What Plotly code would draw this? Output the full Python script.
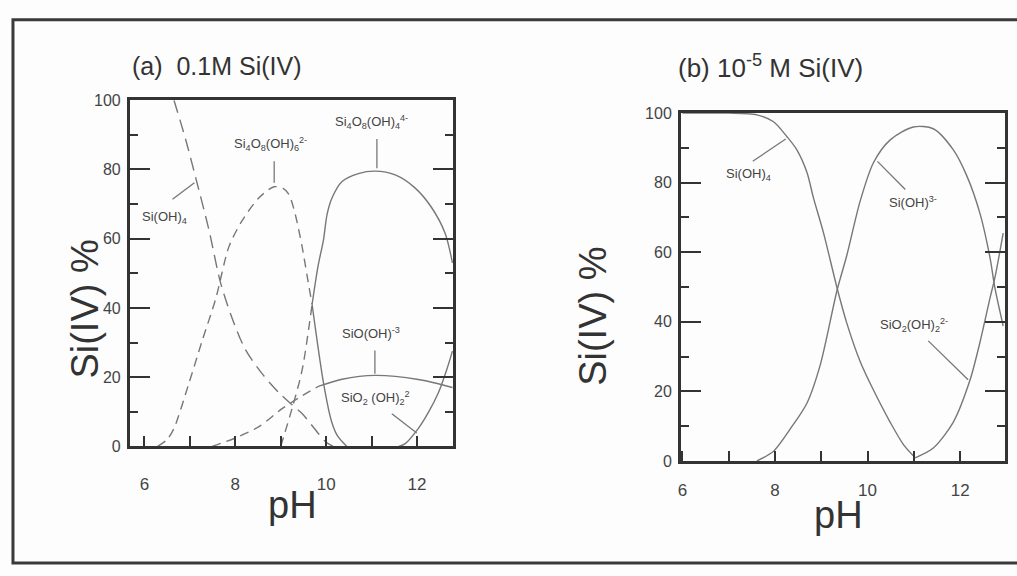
import plotly.graph_objects as go

W, H = 1017, 576

# ---------------- data: panel (a) 0.1 M Si(IV) ----------------
a_sioh4_ph = [6.65, 6.91, 7.13, 7.42, 7.67, 7.93, 8.22, 8.59, 8.96, 9.25, 9.47, 9.75, 9.98, 10.15]
a_sioh4_pc = [100, 88.5, 77.5, 62.5, 47.5, 37, 28, 21, 15.5, 12, 9.5, 5, 1.4, 0]

a_s4o8oh6_ph = [6.29, 6.5, 6.65, 6.98, 7.27, 7.57, 7.86, 8.15, 8.52, 8.85, 9.05, 9.18, 9.32, 9.47, 9.58, 9.69,
                9.94, 10.12, 10.25, 10.45]
a_s4o8oh6_pc = [0, 2, 5.2, 18.3, 30.5, 42.7, 57.7, 65.2, 71.8, 75, 74.5, 72.8, 67, 57.7, 49.3, 41,
                18.4, 7.1, 3, 0]
a_s4o8oh6_split = 9.69

a_s4o8oh4_ph = [9.0, 9.25, 9.47, 9.69, 9.82, 9.94, 10.02, 10.13, 10.35, 10.71, 11.08, 11.52, 11.96, 12.32, 12.62, 12.78]
a_s4o8oh4_pc = [0, 11, 22, 41, 52, 59.6, 67, 71.8, 76.5, 78.8, 79.5, 78.4, 74.6, 69, 61.5, 53]
a_s4o8oh4_split = 9.69

a_sio_oh3_ph = [7.49, 8.0, 8.52, 9.03, 9.47, 9.84, 10.35, 11.08, 12.03, 12.78]
a_sio_oh3_pc = [0, 2.4, 5.7, 10.9, 14.6, 17.4, 19.4, 20.5, 19.3, 17]
a_sio_oh3_split = 9.84

a_sio2oh2_ph = [11.6, 11.74, 12.03, 12.25, 12.47, 12.65, 12.78]
a_sio2oh2_pc = [0, 0.8, 5.2, 9.8, 15.5, 22, 27.5]

# ---------------- data: panel (b) 1e-5 M Si(IV) ----------------
b_sioh4_ph = [6.0, 7.0, 7.61, 7.97, 8.26, 8.47, 8.69, 8.83, 9.05, 9.34, 9.55, 9.84, 10.13, 10.49, 10.78, 11.03]
b_sioh4_pc = [100, 100, 99.5, 97.5, 93.2, 89.5, 83, 75.7, 65.5, 49.8, 39.7, 28.6, 20.3, 11.1, 4.6, 0.9]

b_sioh3_ph = [7.61, 7.97, 8.33, 8.69, 8.98, 9.34, 9.55, 9.84, 10.13, 10.49, 10.99, 11.42, 11.85, 12.14, 12.43, 12.65,
              12.75, 12.93]
b_sioh3_pc = [0, 2.8, 9.2, 16.6, 27.7, 49, 59, 74.7, 85.8, 92.3, 96, 95.5, 89.5, 82.1, 71.1, 58.1, 49.8, 38.8]

b_sio2oh2_ph = [11.03, 11.42, 11.85, 12.21, 12.43, 12.65, 12.75, 12.93]
b_sio2oh2_pc = [0.9, 3.7, 11.1, 23.1, 34.2, 47.1, 52.6, 65.5]

x_ticks = [6, 8, 10, 12]
y_ticks = [0, 20, 40, 60, 80, 100]

CURVE = "#777777"
DARK = "#333333"
TXT = "#444444"
FONT = "Liberation Sans, Arial, sans-serif"


def px(x):
    return x / W


def py(y):
    return 1 - y / H


fig = go.Figure()


def add_curve(ph, pc, xa, ya, dash, split=None):
    if split is None:
        fig.add_trace(go.Scatter(x=ph, y=pc, mode="lines", xaxis=xa, yaxis=ya, showlegend=False,
                                 line=dict(color=CURVE, width=1.4, dash=dash, shape="spline", smoothing=0.8)))
        return
    i = ph.index(split)
    fig.add_trace(go.Scatter(x=ph[:i + 1], y=pc[:i + 1], mode="lines", xaxis=xa, yaxis=ya, showlegend=False,
                             line=dict(color=CURVE, width=1.4, dash="9px,6px", shape="spline", smoothing=0.8)))
    fig.add_trace(go.Scatter(x=ph[i:], y=pc[i:], mode="lines", xaxis=xa, yaxis=ya, showlegend=False,
                             line=dict(color=CURVE, width=1.4, dash="solid", shape="spline", smoothing=0.8)))


# panel (a)
add_curve(a_sioh4_ph, a_sioh4_pc, "x", "y", "13px,7px")
add_curve(a_s4o8oh6_ph, a_s4o8oh6_pc, "x", "y", None, a_s4o8oh6_split)
add_curve(a_s4o8oh4_ph, a_s4o8oh4_pc, "x", "y", None, a_s4o8oh4_split)
add_curve(a_sio_oh3_ph, a_sio_oh3_pc, "x", "y", None, a_sio_oh3_split)
add_curve(a_sio2oh2_ph, a_sio2oh2_pc, "x", "y", "solid")

# panel (b)
add_curve(b_sioh4_ph, b_sioh4_pc, "x2", "y2", "solid")
add_curve(b_sioh3_ph, b_sioh3_pc, "x2", "y2", "solid")
add_curve(b_sio2oh2_ph, b_sio2oh2_pc, "x2", "y2", "solid")


def xaxis(dom, rng, standoff):
    return dict(domain=dom, range=rng, tickvals=x_ticks, ticks="inside", ticklen=10, tickwidth=1.5,
                tickcolor=DARK, showline=True, linewidth=3, linecolor=DARK, mirror=True,
                showgrid=False, zeroline=False, tickfont=dict(family=FONT, size=17, color=TXT),
                ticklabelstandoff=standoff,
                minor=dict(dtick=1, tick0=6, ticks="inside", ticklen=10, tickwidth=1.5, tickcolor=DARK,
                           showgrid=False))


def yaxis(dom, anchor):
    return dict(domain=dom, range=[0, 100], tickvals=y_ticks, ticks="inside", ticklen=20, tickwidth=1.5,
                tickcolor=DARK, showline=True, linewidth=3, linecolor=DARK, mirror="ticks",
                showgrid=False, zeroline=False, anchor=anchor,
                tickfont=dict(family=FONT, size=16, color=TXT), ticklabelstandoff=3,
                minor=dict(dtick=10, tick0=0, ticks="inside", ticklen=8, tickwidth=1.5, tickcolor=DARK,
                           showgrid=False))


fig.update_layout(
    width=W, height=H, autosize=False,
    margin=dict(l=0, r=0, t=0, b=0),
    paper_bgcolor="#fdfdfd", plot_bgcolor="#fdfdfd",
    xaxis=xaxis([px(127.3), px(451.7)], [5.68, 12.8], 20) | dict(anchor="y"),
    yaxis=yaxis([py(451.7), py(95)], "x"),
    xaxis2=xaxis([px(680), px(1005)], [5.97, 12.97], 12) | dict(anchor="y2"),
    yaxis2=yaxis([py(466.7), py(108.3)], "x2"),
    showlegend=False,
)

# outer frame
fig.add_shape(type="rect", xref="paper", yref="paper", x0=px(10), x1=px(1030), y0=py(572), y1=py(12),
              line=dict(color="#3a3a3a", width=3))

ann = []


def text(x, y, s, size, color=TXT, angle=0, xanchor="center"):
    ann.append(dict(x=px(x), y=py(y), xref="paper", yref="paper", text=s, showarrow=False,
                    font=dict(family=FONT, size=size, color=color), textangle=angle,
                    xanchor=xanchor, yanchor="middle"))


def leader(x0, y0, x1, y1):
    fig.add_shape(type="line", xref="paper", yref="paper", x0=px(x0), y0=py(y0), x1=px(x1), y1=py(y1),
                  line=dict(color=CURVE, width=1.3))


# titles
text(214, 60, "(a)&nbsp; 0.1M Si(IV)", 25, DARK)
text(770, 60, "(b) 10<sup>-5</sup> M Si(IV)", 26, DARK)
# axis titles
text(82, 310, "Si(IV) %", 38, DARK, angle=-90)
text(591, 318, "Si(IV) %", 38, DARK, angle=-90)
text(290, 512, "pH", 38, DARK)
text(838, 522, "pH", 38, DARK)

# species labels panel (a)
text(162, 216, "Si(OH)<sub>4</sub>", 13)
leader(170, 197, 192, 180)
text(268, 140, "Si<sub>4</sub>O<sub>8</sub>(OH)<sub>6</sub><sup>2-</sup>", 13)
leader(272, 158, 272, 180)
text(370, 117, "Si<sub>4</sub>O<sub>8</sub>(OH)<sub>4</sub><sup>4-</sup>", 13)
leader(375, 135, 375, 165)
text(369, 335, "SiO(OH)<sup>-3</sup>", 13)
leader(373, 353, 373, 377)
text(374, 402, "SiO<sub>2</sub> (OH)<sub>2</sub><sup>2</sup>", 13)
leader(390, 418, 415, 438)

# species labels panel (b)
text(748, 172, "Si(OH)<sub>4</sub>", 13)
leader(752, 158, 785, 135)
text(913, 200, "Si(OH)<sup>3-</sup>", 13)
leader(877, 158, 905, 187)
text(914, 327, "SiO<sub>2</sub>(OH)<sub>2</sub><sup>2-</sup>", 13)
leader(928, 343, 968, 383)

fig.update_layout(annotations=ann)
fig.write_html("out.html", config={"displayModeBar": False},
               post_script="document.body.style.margin='0';document.body.style.overflow='hidden';")
